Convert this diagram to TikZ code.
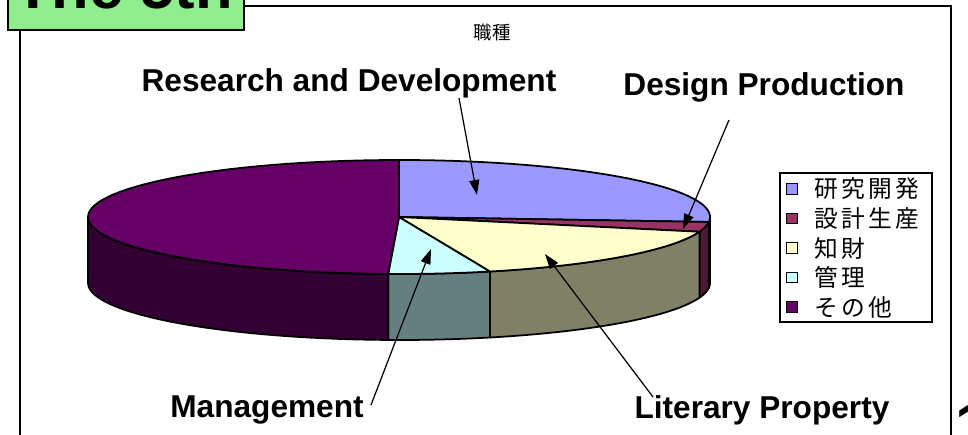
\documentclass[tikz,border=0pt]{standalone}
\usepackage{fontspec}
\setmainfont{Liberation Sans}
\newfontfamily\cjk{Noto Sans CJK JP}
\newfontfamily\cjkwide[LetterSpace=14]{Noto Sans CJK JP}
\usetikzlibrary{arrows.meta}

\definecolor{rdblue}{HTML}{9999FF}
\definecolor{dpred}{HTML}{993366}
\definecolor{lityellow}{HTML}{FFFFCC}
\definecolor{mgmtcyan}{HTML}{CCFFFF}
\definecolor{othpurple}{HTML}{660066}
\definecolor{rdside}{HTML}{4C4C80}
\definecolor{dpside}{HTML}{4D1A33}
\definecolor{litside}{HTML}{808066}
\definecolor{mgmtside}{HTML}{668080}
\definecolor{othside}{HTML}{330033}
\definecolor{titlegreen}{HTML}{8FEF8F}

\tikzset{
  pieline/.style={
    draw=black,
    line width=1pt,
    line join=round
  },
  frame/.style={
    line width=1.7pt
  },
  callout/.style={
    line width=0.7pt,
    -{Triangle[length=0.3cm,width=0.2cm]}
  },
  label/.style={
    font=\bfseries\fontsize{18}{20}\selectfont,
    inner sep=0pt
  },
  legend key/.style={
    draw,
    line width=0.6pt,
    minimum size=0.21cm,
    inner sep=0pt
  },
  legend text/.style={
    font=\cjkwide\fontsize{13.5}{15}\selectfont,
    anchor=west,
    inner sep=0pt
  },
  declare function={
    ex(\t)=399+311*cos(\t);
    ey(\t)=217-57*sin(\t);
  }
}

\begin{document}
\begin{tikzpicture}[x=0.02cm, y=-0.02cm]
    \useasboundingbox (0,0) rectangle (968,435);
    % frame and title tab
    \draw[frame] (20,31) -- (20,440) (244,6) -- (951,6) -- (951,440);
    \filldraw[fill=titlegreen, line width=1pt] (8,-30) rectangle (244,30);
    \node[font=\bfseries\fontsize{35}{36}\selectfont, anchor=base west, inner sep=0pt] (title) at (14,9) {The 5th};
    \node[font=\bfseries\fontsize{35}{36}\selectfont, anchor=north west, inner sep=0pt] (pageno) at (955,404) {1};
    \node[font=\cjk\fontsize{10.5}{12}\selectfont] (charttitle) at (492,33) {職種};

    % pie sides
    \foreach \a/\b/\col in {0/-5/rdside, -5/-15/dpside, -15/-73/litside, -73/-92/mgmtside, -92/-180/othside}
      \path[pieline, fill=\col]
        plot[domain=\a:\b, samples=30, variable=\t] ({ex(\t)},{ey(\t)})
        -- plot[domain=\b:\a, samples=30, variable=\t] ({ex(\t)},{ey(\t)+66}) -- cycle;
    % pie top
    \foreach \a/\b/\col in {90/-5/rdblue, -5/-15/dpred, -15/-73/lityellow, -73/-92/mgmtcyan, -92/-270/othpurple}
      \path[pieline, fill=\col]
        (399,217) -- plot[domain=\a:\b, samples=60, variable=\t] ({ex(\t)},{ey(\t)}) -- cycle;

    % labels
    \node[label] (rd) at (349,83) {Research and Development};
    \node[label] (dp) at (764,87) {Design Production};
    \node[label] (mgmt) at (267,410) {Management};
    \node[label] (lit) at (762,410) {Literary Property};
    \coordinate (rdfrom) at (459,98);
    \coordinate (rdtip) at (477,195);
    \coordinate (dpfrom) at (729,120);
    \coordinate (dptip) at (683,229);
    \coordinate (mgmtfrom) at (371,405);
    \coordinate (mgmttip) at (431,249);
    \coordinate (litfrom) at (653,397);
    \coordinate (littip) at (545,254);
    \draw[callout] (rdfrom) -- (rdtip);
    \draw[callout] (dpfrom) -- (dptip);
    \draw[callout] (mgmtfrom) -- (mgmttip);
    \draw[callout] (litfrom) -- (littip);

    % legend
    \draw[line width=0.6pt] (780,173) rectangle (932,322);
    \foreach \y/\col/\txt in {189/rdblue/研究開発, 218.5/dpred/設計生産, 248/lityellow/知財, 277.5/mgmtcyan/管理, 307/othpurple/その他} {
      \node[legend key, fill=\col] (key\y) at (792,\y) {};
      \node[legend text] (txt\y) at (814,\y) {\txt};
    }
  \end{tikzpicture}
\end{document}
